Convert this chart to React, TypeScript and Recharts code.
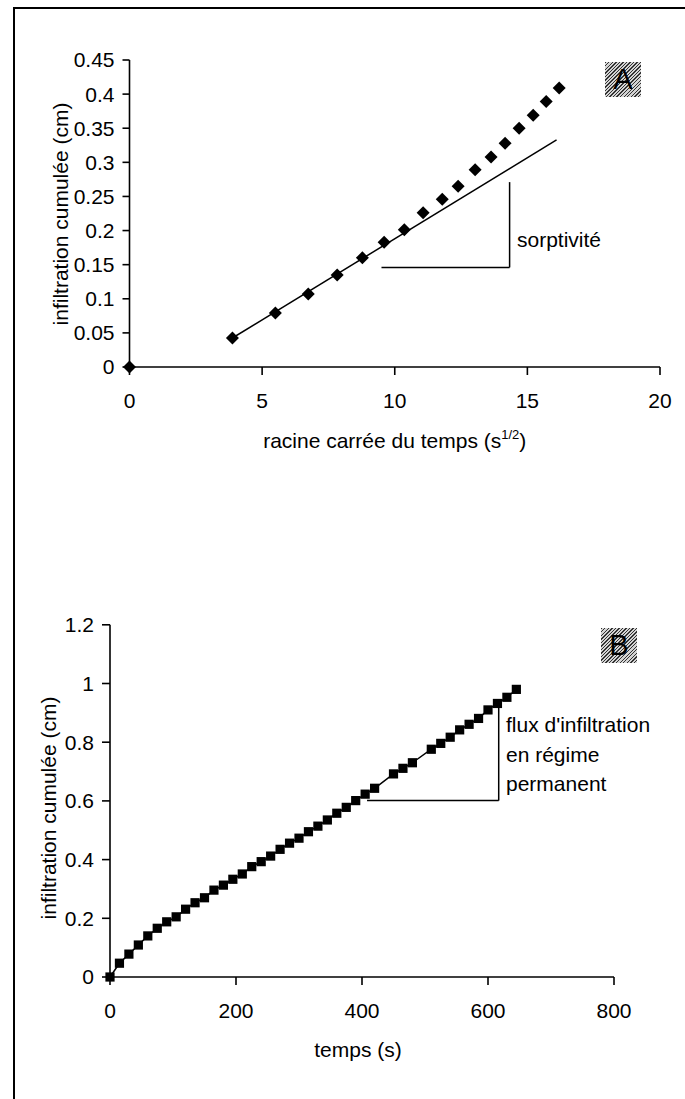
import React from "react";
import {
  ScatterChart,
  Scatter,
  XAxis,
  YAxis,
  ReferenceLine,
  Label,
} from "recharts";

const FONT = '"Liberation Sans", Arial, Helvetica, sans-serif';

// Panel A: cumulative infiltration vs square root of time
const racineTemps = [0, 3.88, 5.5, 6.74, 7.83, 8.78, 9.6, 10.36, 11.07, 11.79, 12.39, 13.03, 13.63, 14.16, 14.69, 15.22, 15.71, 16.2];
const infiltrationA = [0, 0.0425, 0.079, 0.107, 0.135, 0.16, 0.183, 0.201, 0.226, 0.246, 0.265, 0.289, 0.308, 0.328, 0.35, 0.369, 0.389, 0.409];
const xTicksA = [0, 5, 10, 15, 20];
const yTicksA = [0, 0.05, 0.1, 0.15, 0.2, 0.25, 0.3, 0.35, 0.4, 0.45];
const fitA = [{ x: 3.88, y: 0.0425 }, { x: 16.1, y: 0.333 }];
const triA = [{ x: 9.5, y: 0.146 }, { x: 14.33, y: 0.146 }, { x: 14.33, y: 0.271 }];

// Panel B: cumulative infiltration vs time
const temps = [0, 15, 30, 45, 60, 75, 90, 105, 120, 135, 150, 165, 180, 195, 210, 225, 240, 255, 270, 285, 300, 315, 330, 345, 360, 375, 390, 405, 420, 450, 465, 480, 510, 525, 540, 555, 570, 585, 600, 615, 630, 645];
const infiltrationB = [0, 0.047, 0.078, 0.109, 0.14, 0.166, 0.188, 0.205, 0.231, 0.253, 0.27, 0.296, 0.313, 0.333, 0.351, 0.376, 0.393, 0.412, 0.435, 0.456, 0.473, 0.495, 0.514, 0.535, 0.558, 0.578, 0.601, 0.623, 0.643, 0.692, 0.711, 0.73, 0.776, 0.796, 0.817, 0.842, 0.861, 0.881, 0.91, 0.932, 0.953, 0.98];
const xTicksB = [0, 200, 400, 600, 800];
const yTicksB = [0, 0.2, 0.4, 0.6, 0.8, 1, 1.2];
const triB = [{ x: 408, y: 0.601 }, { x: 617, y: 0.601 }, { x: 617, y: 0.917 }];

const pointsA = racineTemps.map((x, i) => ({ x, y: infiltrationA[i] }));
const pointsB = temps.map((x, i) => ({ x, y: infiltrationB[i] }));

const tickStyle = { fill: "#000", fontSize: 21, fontFamily: FONT };
const axisLine = { stroke: "#000", strokeWidth: 1.6 };

const Diamond = (p: any) => (
  <polygon
    points={`${p.cx},${p.cy - 6.5} ${p.cx + 6.5},${p.cy} ${p.cx},${p.cy + 6.5} ${p.cx - 6.5},${p.cy}`}
    fill="#000"
  />
);

const Square = (p: any) => (
  <rect x={p.cx - 4.6} y={p.cy - 4.6} width={9.2} height={9.2} fill="#000" />
);

const yTitle = (cx: number, cy: number) => () => (
  <text
    x={cx}
    y={cy}
    transform={`rotate(-90 ${cx} ${cy})`}
    textAnchor="middle"
    dominantBaseline="central"
    fontSize={21}
    fontFamily={FONT}
    fill="#000"
  >
    infiltration cumulée (cm)
  </text>
);

const hatch: React.CSSProperties = {
  position: "absolute",
  width: 36,
  height: 35,
  background:
    "repeating-linear-gradient(135deg, #333 0px, #333 1px, #d4d4d4 1px, #d4d4d4 2.5px)",
  color: "#000",
  fontFamily: FONT,
  fontSize: 29,
  lineHeight: "35px",
  textAlign: "center",
};

const note: React.CSSProperties = {
  position: "absolute",
  fontFamily: FONT,
  fontSize: 21,
  color: "#000",
  whiteSpace: "nowrap",
};

export default function App() {
  return (
    <div style={{ position: "absolute", left: 0, top: 0, width: 685, height: 1099, background: "#fff" }}>
      <div style={{ position: "absolute", left: 13, top: 7, width: 672, height: 1092, borderTop: "2px solid #000", borderLeft: "2px solid #000" }} />

      <div style={{ position: "absolute", left: 0, top: 0 }}>
        <ScatterChart width={685} height={467} margin={{ top: 60, right: 25, left: 0, bottom: 0 }}>
          <XAxis
            type="number"
            dataKey="x"
            domain={[0, 20]}
            ticks={xTicksA}
            height={100}
            tick={tickStyle}
            tickSize={8}
            tickMargin={18}
            axisLine={axisLine}
            tickLine={axisLine}
          >
            <Label
              content={(props: any) => {
                const vb = props.viewBox;
                return (
                  <text x={vb.x + vb.width / 2} y={vb.y + 81} textAnchor="middle" fontSize={21} fontFamily={FONT} fill="#000">
                    racine carrée du temps (s
                    <tspan dy={-9} fontSize={13}>1/2</tspan>
                    <tspan dy={9}>)</tspan>
                  </text>
                );
              }}
            />
          </XAxis>
          <YAxis
            type="number"
            dataKey="y"
            domain={[0, 0.45]}
            ticks={yTicksA}
            width={129.5}
            tick={tickStyle}
            tickSize={7}
            tickMargin={8}
            axisLine={axisLine}
            tickLine={axisLine}
          >
            <Label content={yTitle(60, 214)} />
          </YAxis>
          <ReferenceLine segment={fitA} stroke="#000" strokeWidth={1.5} ifOverflow="visible" />
          <ReferenceLine segment={[triA[0], triA[1]]} stroke="#000" strokeWidth={1.5} ifOverflow="visible" />
          <ReferenceLine segment={[triA[1], triA[2]]} stroke="#000" strokeWidth={1.5} ifOverflow="visible" />
          <Scatter data={pointsA} shape={Diamond} isAnimationActive={false} />
        </ScatterChart>
      </div>

      <div style={{ position: "absolute", left: 0, top: 560 }}>
        <ScatterChart width={685} height={517} margin={{ top: 64.8, right: 71, left: 0, bottom: 0 }}>
          <XAxis
            type="number"
            dataKey="x"
            domain={[0, 800]}
            ticks={xTicksB}
            height={100}
            tick={tickStyle}
            tickSize={8}
            tickMargin={18}
            axisLine={axisLine}
            tickLine={axisLine}
          >
            <Label
              content={(props: any) => {
                const vb = props.viewBox;
                return (
                  <text x={358} y={vb.y + 80} textAnchor="middle" fontSize={21} fontFamily={FONT} fill="#000">
                    temps (s)
                  </text>
                );
              }}
            />
          </XAxis>
          <YAxis
            type="number"
            dataKey="y"
            domain={[0, 1.2]}
            ticks={yTicksB}
            width={110}
            tick={tickStyle}
            tickSize={8}
            tickMargin={8}
            axisLine={axisLine}
            tickLine={axisLine}
          >
            <Label content={yTitle(48, 248)} />
          </YAxis>
          <ReferenceLine segment={[triB[0], triB[1]]} stroke="#000" strokeWidth={1.5} ifOverflow="visible" />
          <ReferenceLine segment={[triB[1], triB[2]]} stroke="#000" strokeWidth={1.5} ifOverflow="visible" />
          <Scatter
            data={pointsB}
            shape={Square}
            line={{ stroke: "#000", strokeWidth: 1.5 }}
            lineType="joint"
            isAnimationActive={false}
          />
        </ScatterChart>
      </div>

      <div style={{ ...hatch, left: 605, top: 62 }}>A</div>
      <div style={{ ...hatch, left: 601, top: 628 }}>B</div>

      <div style={{ ...note, left: 517, top: 229, lineHeight: "21px" }}>sorptivité</div>
      <div style={{ ...note, left: 506, top: 710, lineHeight: "29.5px" }}>
        flux d'infiltration
        <br />
        en régime
        <br />
        permanent
      </div>
    </div>
  );
}
